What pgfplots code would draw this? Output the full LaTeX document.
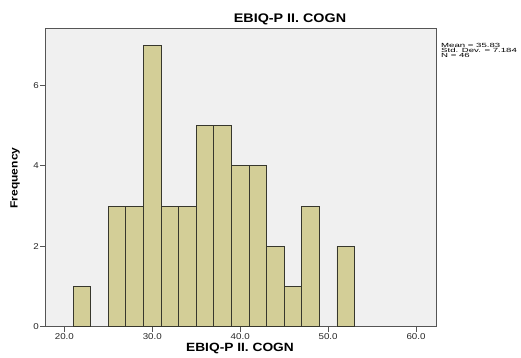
\documentclass[border=0pt]{standalone}
\usepackage{fontspec}
\setmainfont{Liberation Sans}[FakeStretch=1.15]
\usepackage{graphicx}
\usepackage{pgfplots}
\pgfplotsset{compat=1.18}
\definecolor{barfill}{RGB}{211,206,151}
\definecolor{bg}{RGB}{240,240,240}
\definecolor{framec}{RGB}{85,85,85}
\definecolor{barline}{RGB}{55,55,45}
\begin{document}
\begin{tikzpicture}[x=1bp,y=1bp]
\useasboundingbox (0,0) rectangle (521,357);
\begin{axis}[
  at={(45bp,30.3bp)}, anchor=south west,
  scale only axis, width=391bp, height=298.7bp,
  xmin=17.8, xmax=62.27, ymin=0, ymax=7.43,
  axis background/.style={fill=bg},
  axis line style={framec, line width=1bp},
  xtick={20,30,40,50,60}, ytick={0,2,4,6},
  xticklabel={\pgfmathprintnumber[fixed,fixed zerofill,precision=1]{\tick}},
  tick align=outside, major tick length=5bp,
  tick style={framec, line width=0.8bp},
  xtick pos=bottom, ytick pos=left,
  ticklabel style={font=\fontsize{8.5}{9}\selectfont, text=black!85},
  yticklabel style={inner xsep=1bp},
  xticklabel style={inner ysep=1.5bp},
  /pgf/number format/assume math mode=true,
  clip=false,
]
\addplot[ybar, bar width=2, bar shift=0, fill=barfill, draw=barline, line width=0.8bp]
  coordinates {(22,1) (26,3) (28,3) (30,7) (32,3) (34,3) (36,5) (38,5) (40,4) (42,4) (44,2) (46,1) (48,3) (52,2)};
\end{axis}
\node[font=\bfseries\fontsize{12.5}{14}\selectfont] at (290,338) {EBIQ-P II. COGN};
\node[font=\bfseries\fontsize{12}{14}\selectfont] at (240,8.5) {EBIQ-P II. COGN};
\node[font=\bfseries\fontsize{10.5}{12}\selectfont, rotate=90] at (15,179) {Frequency};
\node[anchor=north west, inner sep=0pt, align=left, font=\fontsize{6}{5}\selectfont] at (441,314)
  {\scalebox{1.4}[1]{Mean = 35.83}\\\scalebox{1.4}[1]{Std. Dev. = 7.184}\\\scalebox{1.4}[1]{N = 46}};
\end{tikzpicture}
\end{document}
